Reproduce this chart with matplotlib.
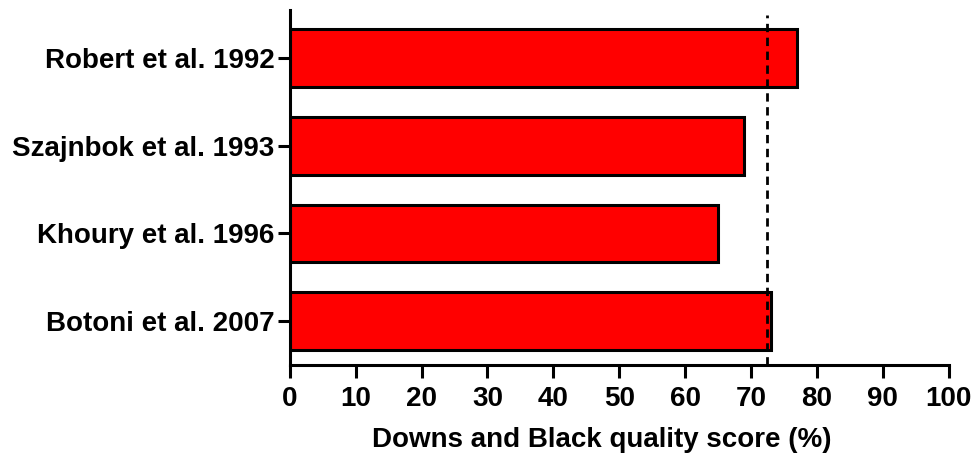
import matplotlib.pyplot as plt

studies = ["Robert et al. 1992", "Szajnbok et al. 1993", "Khoury et al. 1996", "Botoni et al. 2007"]
scores = [77, 69, 65, 73]
threshold = 72.4
xticks = list(range(0, 101, 10))

plt.rcParams["font.family"] = ["Liberation Sans", "DejaVu Sans"]
plt.rcParams["font.weight"] = "bold"

fig = plt.figure(figsize=(9.79, 4.59), dpi=100)
ax = fig.add_axes([0.296, 0.205, 0.673, 0.773])

ypos = list(range(len(studies)))[::-1]
ax.barh(ypos, scores, height=0.66, color="#ff0000", edgecolor="black", linewidth=2.2)
ax.axvline(threshold, ymin=0, ymax=0.985, color="black", linestyle=(0, (3, 2)), linewidth=2.0)

ax.set_xlim(0, 100)
ax.set_ylim(-0.5, 3.55)
ax.set_xticks(xticks)
ax.set_yticks(ypos)
ax.set_yticklabels(studies)
ax.tick_params(axis="both", labelsize=20, width=2.2, length=9, direction="out")
ax.tick_params(axis="x", pad=6)
ax.tick_params(axis="y", pad=2)
for lab in ax.get_xticklabels() + ax.get_yticklabels():
    lab.set_fontweight("bold")

ax.spines["top"].set_visible(False)
ax.spines["right"].set_visible(False)
ax.spines["left"].set_linewidth(2.2)
ax.spines["bottom"].set_linewidth(2.2)

ax.set_xlabel("Downs and Black quality score (%)", fontsize=20, fontweight="bold")
ax.xaxis.set_label_coords(0.473, -0.175)

fig.savefig("out.png", dpi=100)
